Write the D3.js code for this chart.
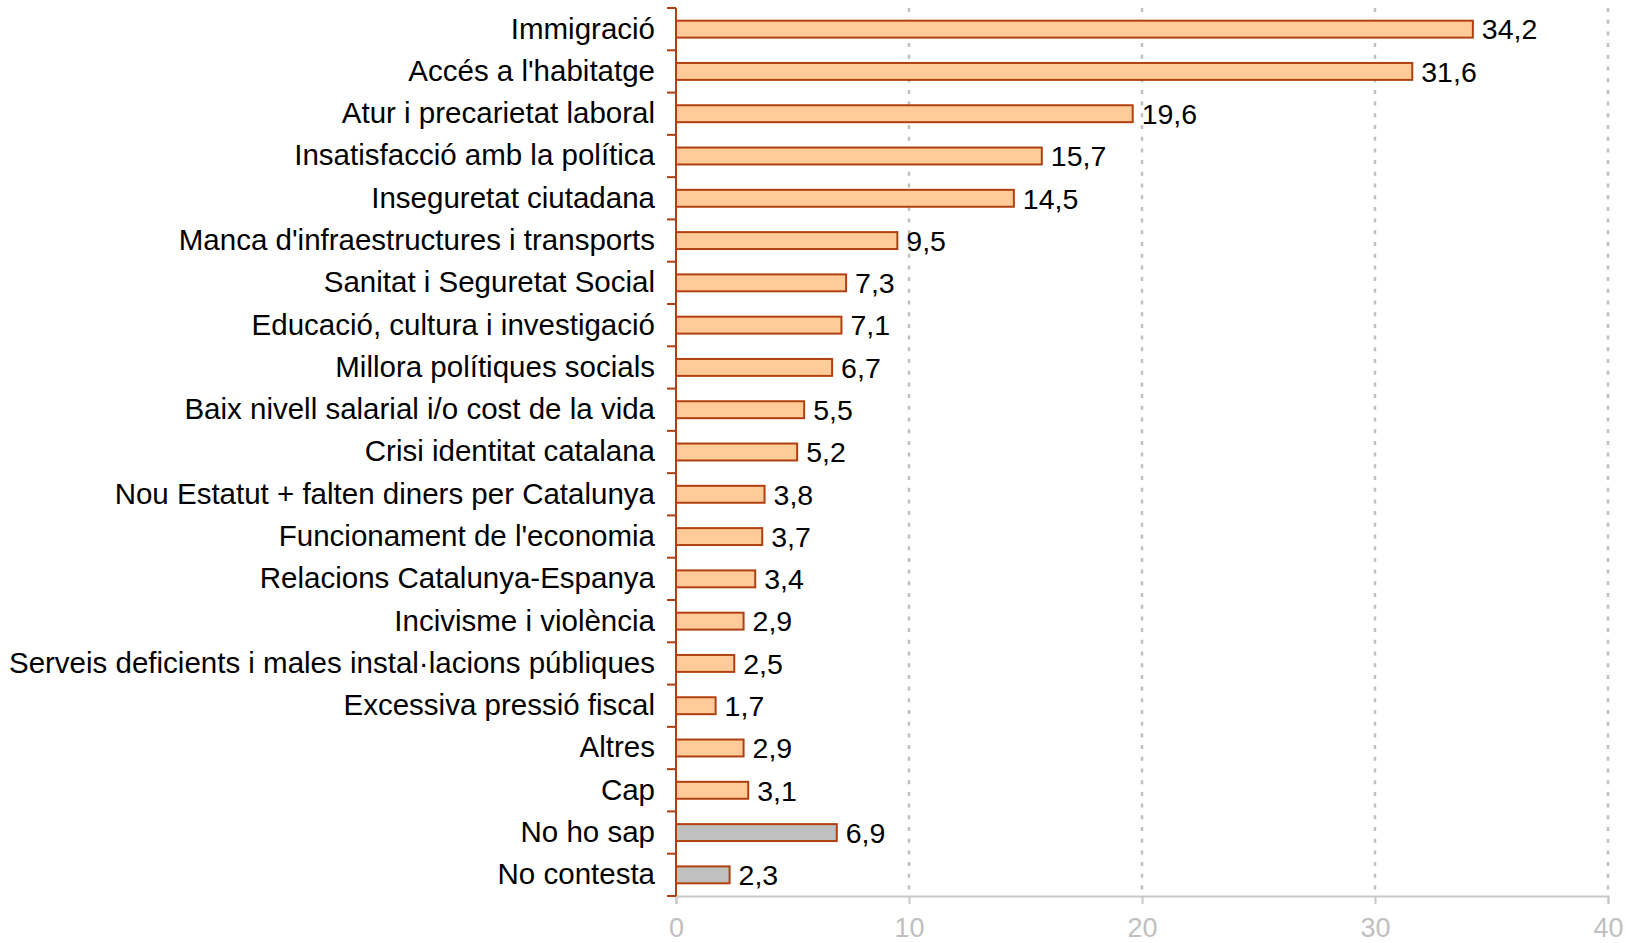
<!DOCTYPE html>
<html><head><meta charset="utf-8">
<script src="https://cdn.jsdelivr.net/npm/d3@7"></script>
<style>html,body{margin:0;padding:0;background:#fff;}svg{display:block;}</style>
</head><body>
<script>
const categories = ["Immigració","Accés a l'habitatge","Atur i precarietat laboral","Insatisfacció amb la política","Inseguretat ciutadana","Manca d'infraestructures i transports","Sanitat i Seguretat Social","Educació, cultura i investigació","Millora polítiques socials","Baix nivell salarial i/o cost de la vida","Crisi identitat catalana","Nou Estatut + falten diners per Catalunya","Funcionament de l'economia","Relacions Catalunya-Espanya","Incivisme i violència","Serveis deficients i males instal·lacions públiques","Excessiva pressió fiscal","Altres","Cap","No ho sap","No contesta"];
const values = [34.2,31.6,19.6,15.7,14.5,9.5,7.3,7.1,6.7,5.5,5.2,3.8,3.7,3.4,2.9,2.5,1.7,2.9,3.1,6.9,2.3];
const greyCategories = ["No ho sap","No contesta"];
const xTicks = [0,10,20,30,40];

const W = 1637, H = 943;
const m = {left: 676, right: 29, top: 8, bottom: 47};
const FONT = "Liberation Sans, Arial, sans-serif";
const svg = d3.select("body").append("svg").attr("width", W).attr("height", H);
const x = d3.scaleLinear().domain([0,40]).range([m.left, W - m.right]);
const y = d3.scaleBand().domain(categories).range([m.top, H - m.bottom]).paddingInner(0.6).paddingOuter(0.3);
const band = d3.scaleBand().domain(categories).range([m.top, H - m.bottom]);

// grid
svg.append("g").selectAll("line").data(xTicks.filter(d => d > 0)).join("line")
  .attr("x1", d => x(d)).attr("x2", d => x(d))
  .attr("y1", m.top).attr("y2", H - m.bottom)
  .attr("stroke", "#c0c0c0").attr("stroke-width", 2.5).attr("stroke-dasharray", "4,7.7");

// x axis
const xa = svg.append("g").attr("transform", `translate(0,${H - m.bottom})`)
  .call(d3.axisBottom(x).tickValues(xTicks).tickSize(8).tickPadding(14).tickFormat(d3.format("d")));
xa.select(".domain").attr("stroke", "#c8c8c8").attr("stroke-width", 2);
xa.selectAll(".tick line").attr("stroke", "#c8c8c8").attr("stroke-width", 2);
xa.selectAll("text").attr("fill", "#c0c0c0").attr("font-family", FONT).attr("font-size", 27);

// bars
svg.append("g").selectAll("rect").data(categories).join("rect")
  .attr("x", x(0)).attr("y", d => y(d))
  .attr("width", (d,i) => x(values[i]) - x(0))
  .attr("height", y.bandwidth())
  .attr("fill", d => greyCategories.includes(d) ? "#c0c0c0" : "#ffcc99")
  .attr("stroke", "#b04010").attr("stroke-width", 2);

// value labels
svg.append("g").selectAll("text").data(categories).join("text")
  .attr("x", (d,i) => x(values[i]) + 9)
  .attr("y", d => y(d) + y.bandwidth()/2)
  .attr("dy", "0.36em")
  .attr("font-family", FONT).attr("font-size", 28.5).attr("fill", "#000")
  .text((d,i) => d3.format(".1f")(values[i]).replace(".", ","));

// y axis
const ya = svg.append("g").attr("transform", `translate(${m.left},0)`)
  .call(d3.axisLeft(band).tickSize(0).tickPadding(21));
ya.select(".domain").remove();
ya.selectAll("text").attr("font-family", FONT).attr("font-size", 29.5).attr("fill", "#000");
// boundary ticks
const bounds = categories.map(c => band(c)).concat([H - m.bottom]);
svg.append("g").selectAll("line").data(bounds).join("line")
  .attr("x1", m.left - 9).attr("x2", m.left).attr("y1", d => d).attr("y2", d => d)
  .attr("stroke", "#b04010").attr("stroke-width", 2);
svg.append("line").attr("x1", m.left).attr("x2", m.left).attr("y1", m.top).attr("y2", H - m.bottom)
  .attr("stroke", "#b04010").attr("stroke-width", 2);
</script>
</body></html>
